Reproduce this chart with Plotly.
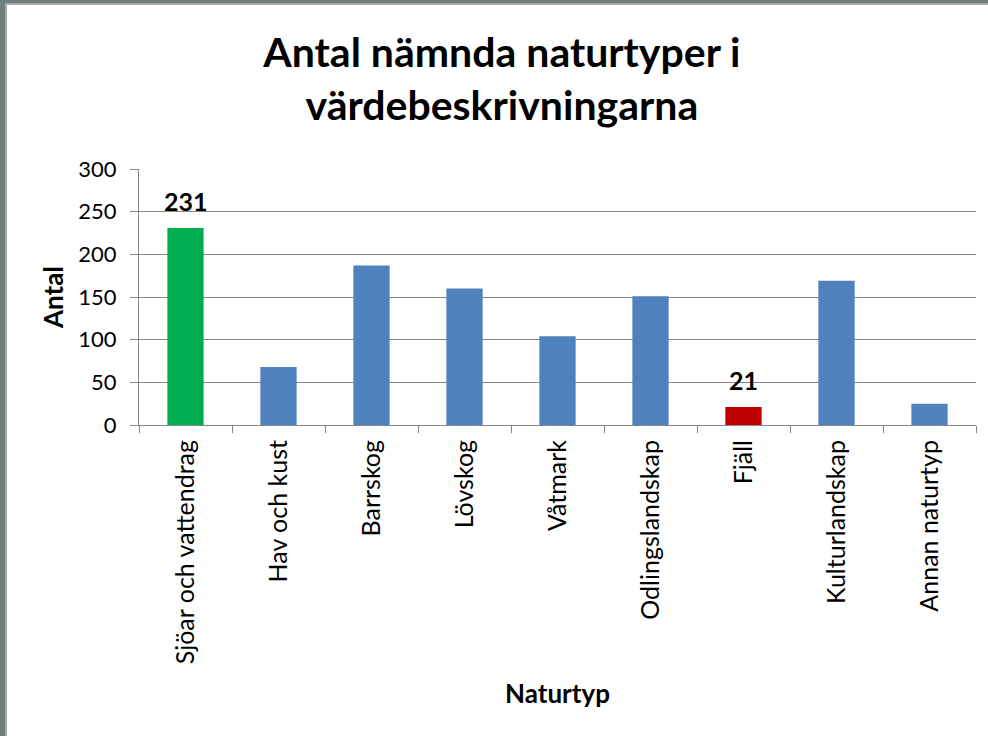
import plotly.graph_objects as go

categories = ["Sjöar och vattendrag", "Hav och kust", "Barrskog", "Lövskog", "Våtmark",
              "Odlingslandskap", "Fjäll", "Kulturlandskap", "Annan naturtyp"]
values = [231, 68, 187, 160, 104, 151, 21, 169, 25]
colors = ["#00B050", "#4F81BD", "#4F81BD", "#4F81BD", "#4F81BD",
          "#4F81BD", "#C00000", "#4F81BD", "#4F81BD"]
labeled = [True, False, False, False, False, False, True, False, False]
y_ticks = [0, 50, 100, 150, 200, 250, 300]

W, H = 988, 736
L, R, T, B = 139, 12, 169, 311
pw, ph = W - L - R, H - T - B

def px(x):
    return (x - L) / pw

def py(y):
    return (H - B - y) / ph

fig = go.Figure(go.Bar(
    x=categories, y=values, marker=dict(color=colors, line=dict(width=0)),
))

annotations = [
    dict(x=c, y=v, xref="x", yref="y", text=str(v), showarrow=False,
         yanchor="bottom", yshift=10,
         font=dict(family="Lato", size=25, color="#000000", weight="bold"))
    for c, v, lab in zip(categories, values, labeled) if lab
]

fig.update_layout(
    width=W, height=H,
    margin=dict(l=L, r=R, t=T, b=B),
    paper_bgcolor="white", plot_bgcolor="white",
    bargap=0.61, showlegend=False,
    font=dict(family="Lato", color="#000000"),
    title=dict(text="Antal nämnda naturtyper i<br>värdebeskrivningarna",
               x=0.508, xanchor="center", y=1 - 67 / H, yanchor="middle",
               font=dict(family="Lato", size=41, color="#000000", weight="bold")),
    xaxis=dict(showline=True, linecolor="#868686", linewidth=1,
               ticks="outside", tickson="boundaries", ticklen=7, tickcolor="#868686",
               tickangle=-90, tickfont=dict(size=25, color="#000000"),
               ticklabelstandoff=4, showgrid=False,
               title=dict(text="Naturtyp", standoff=21,
                          font=dict(size=26, color="#000000", weight="bold"))),
    yaxis=dict(range=[0, 300], tickvals=y_ticks, showline=True, linecolor="#868686",
               linewidth=1, ticks="outside", ticklen=8, tickcolor="#868686",
               showgrid=True, gridcolor="#868686", gridwidth=1, zeroline=False,
               tickfont=dict(size=22, color="#000000"), ticklabelstandoff=9,
               title=dict(text="Antal", standoff=7,
                          font=dict(size=26, color="#000000", weight="bold"))),
    annotations=annotations,
    shapes=[
        dict(type="rect", xref="paper", yref="paper", x0=px(0), x1=px(5), y0=py(H), y1=py(0),
             fillcolor="#6F7F7F", line=dict(width=0), layer="above"),
        dict(type="rect", xref="paper", yref="paper", x0=px(5), x1=px(7), y0=py(H), y1=py(5),
             fillcolor="#A9A9A9", line=dict(width=0), layer="above"),
        dict(type="rect", xref="paper", yref="paper", x0=px(0), x1=px(W), y0=py(3), y1=py(0),
             fillcolor="#6F7F7F", line=dict(width=0), layer="above"),
        dict(type="rect", xref="paper", yref="paper", x0=px(5), x1=px(W), y0=py(5), y1=py(3),
             fillcolor="#A9A9A9", line=dict(width=0), layer="above"),
    ],
)

fig.write_html("out.html", config={"displayModeBar": False},
               post_script="document.body.style.margin='0';")
